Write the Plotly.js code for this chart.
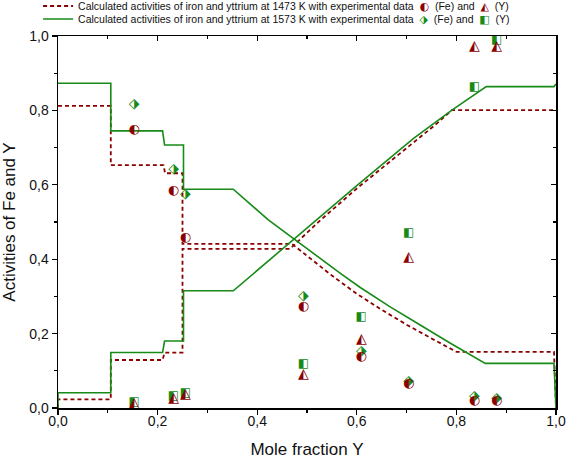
<!DOCTYPE html>
<html>
<head>
<meta charset="utf-8">
<script src="https://cdn.plot.ly/plotly-3.0.1.min.js"></script>
<style>html,body{margin:0;padding:0;background:#fff;}#chart{width:567px;height:460px;}</style>
</head>
<body>
<div id="chart"></div>
<script>
// Experimental compositions (mole fraction Y)
const xExp = [0.153, 0.232, 0.256, 0.493, 0.609, 0.704, 0.836, 0.881];
const feExp1473 = [0.749, 0.584, 0.457, 0.272, 0.138, 0.065, 0.019, 0.019];
const yExp1473  = [0.013, 0.026, 0.035, 0.091, 0.185, 0.405, 0.971, 0.971];
const feExp1573 = [0.816, 0.642, 0.574, 0.299, 0.151, 0.071, 0.032, 0.026];
const yExp1573  = [0.015, 0.032, 0.039, 0.117, 0.244, 0.470, 0.862, 0.989];

// Calculated activities at 1473 K
const xFeCalc1473 = [0, 0.106, 0.106, 0.212, 0.215, 0.25, 0.25, 0.47, 0.55, 0.6, 0.65, 0.7, 0.75, 0.80, 0.996, 1.0];
const feCalc1473  = [0.812, 0.812, 0.653, 0.653, 0.631, 0.631, 0.441, 0.441, 0.356, 0.307, 0.264, 0.224, 0.187, 0.151, 0.151, 0.0];
const xYCalc1473  = [0, 0, 0.106, 0.106, 0.21, 0.214, 0.25, 0.25, 0.466, 0.527, 0.6, 0.7, 0.761, 0.791, 1.0];
const yCalc1473   = [0, 0.023, 0.023, 0.129, 0.129, 0.149, 0.149, 0.428, 0.428, 0.505, 0.59, 0.70, 0.765, 0.801, 0.801];

// Calculated activities at 1573 K
const xFeCalc1573 = [0, 0.106, 0.106, 0.21, 0.214, 0.252, 0.252, 0.352, 0.423, 0.5, 0.567, 0.607, 0.667, 0.714, 0.788, 0.858, 0.996, 1.0];
const feCalc1573  = [0.873, 0.873, 0.745, 0.745, 0.707, 0.707, 0.588, 0.588, 0.505, 0.428, 0.362, 0.324, 0.272, 0.234, 0.174, 0.12, 0.12, 0.0];
const xYCalc1573  = [0, 0, 0.106, 0.106, 0.21, 0.214, 0.252, 0.252, 0.352, 0.517, 0.6, 0.714, 0.791, 0.86, 0.996, 1.0];
const yCalc1573   = [0, 0.041, 0.041, 0.149, 0.149, 0.18, 0.18, 0.315, 0.315, 0.505, 0.598, 0.725, 0.801, 0.864, 0.864, 0.871];

const RED = '#8b0000';
const GREEN = '#178a17';
const glyphFont = 'DejaVu Sans';

function glyph(ch, color) {
  return "<span style='color:" + color + ";font-family:DejaVu Sans;font-size:11px'>" + ch + "</span>";
}
const name1473 = 'Calculated activities of iron and yttrium at 1473 K with experimental data  ' +
  glyph('◐', RED) + '  (Fe) and  ' + glyph('◭', RED) + '  (Y)';
const name1573 = 'Calculated activities of iron and yttrium at 1573 K with experimental data  ' +
  glyph('⬗', GREEN) + '  (Fe) and  ' + glyph('◧', GREEN) + '  (Y)';

const dashLine = {color: RED, width: 1.8, dash: '4px,3px'};
const solidLine = {color: GREEN, width: 1.6};

function glyphs(ys, ch, color, size) {
  return {x: xExp, y: ys, mode: 'text', text: xExp.map(() => ch), textposition: 'middle center',
    textfont: {family: glyphFont, size: size, color: color}, showlegend: false, hoverinfo: 'skip', cliponaxis: false};
}

const traces = [
  {x: xFeCalc1473, y: feCalc1473, mode: 'lines', line: dashLine, name: name1473, legend: 'legend'},
  {x: xYCalc1473, y: yCalc1473, mode: 'lines', line: dashLine, showlegend: false},
  {x: xFeCalc1573, y: feCalc1573, mode: 'lines', line: solidLine, name: name1573, legend: 'legend2'},
  {x: xYCalc1573, y: yCalc1573, mode: 'lines', line: solidLine, showlegend: false},
  glyphs(yExp1573, '◧', GREEN, 12),
  glyphs(feExp1573, '⬗', GREEN, 14),
  glyphs(yExp1473, '◭', RED, 14),
  glyphs(feExp1473, '◐', RED, 13),
  {x: [], y: [], xaxis: 'x2', yaxis: 'y2', showlegend: false},
  {x: [], y: [], xaxis: 'x3', yaxis: 'y', showlegend: false}
];

const tickFont = {family: 'Liberation Sans, Arial, sans-serif', size: 14, color: '#111'};
const baseAxis = {
  range: [0, 1], dtick: 0.2, tick0: 0, tickformat: '.1f', ticks: 'outside', ticklen: 5, tickwidth: 1.3,
  tickcolor: '#000', showline: true, linecolor: '#000', linewidth: 1.5, showgrid: false, zeroline: false,
  minor: {dtick: 0.1, ticklen: 3, tickwidth: 1.3, tickcolor: '#000', ticks: 'outside', showgrid: false},
  tickfont: tickFont, fixedrange: true
};
const innerMinor = {dtick: 0.1, ticklen: 3, tickwidth: 1.3, tickcolor: '#000', ticks: 'inside', showgrid: false};

const legendFont = {family: 'Liberation Sans, Arial, sans-serif', size: 10.5, color: '#111'};

const layout = {
  width: 567, height: 460,
  margin: {l: 58, r: 11, t: 36, b: 52, autoexpand: false},
  paper_bgcolor: '#fff', plot_bgcolor: '#fff',
  separators: ',.',
  font: {family: 'Liberation Sans, Arial, sans-serif', color: '#111'},
  // bottom axis: labels only (ticks drawn by xaxis3)
  xaxis: Object.assign({}, baseAxis, {
    ticks: '', minor: {ticks: '', showgrid: false},
    title: {text: 'Mole fraction Y', font: {size: 17, color: '#111'}, standoff: 15}
  }),
  xaxis3: Object.assign({}, baseAxis, {overlaying: 'x', side: 'bottom', anchor: 'y',
    showticklabels: false, title: {text: ''}}),
  yaxis: Object.assign({}, baseAxis, {
    title: {text: 'Activities of Fe and Y', font: {size: 17, color: '#111'}, standoff: 9}
  }),
  xaxis2: Object.assign({}, baseAxis, {overlaying: 'x', side: 'top', anchor: 'y2', ticks: 'inside',
    showticklabels: false, title: {text: ''}, minor: innerMinor}),
  yaxis2: Object.assign({}, baseAxis, {overlaying: 'y', side: 'right', anchor: 'x2', ticks: 'inside',
    showticklabels: false, title: {text: ''}, minor: innerMinor}),
  showlegend: true,
  legend: {x: -0.04, xanchor: 'left', y: 1.0806, yanchor: 'middle', orientation: 'v',
    font: legendFont, bgcolor: 'rgba(0,0,0,0)', borderwidth: 0, itemwidth: 30},
  legend2: {x: -0.04, xanchor: 'left', y: 1.0457, yanchor: 'middle', orientation: 'v',
    font: legendFont, bgcolor: 'rgba(0,0,0,0)', borderwidth: 0, itemwidth: 30}
};

Plotly.newPlot('chart', traces, layout, {staticPlot: true, displayModeBar: false});
</script>
</body>
</html>
